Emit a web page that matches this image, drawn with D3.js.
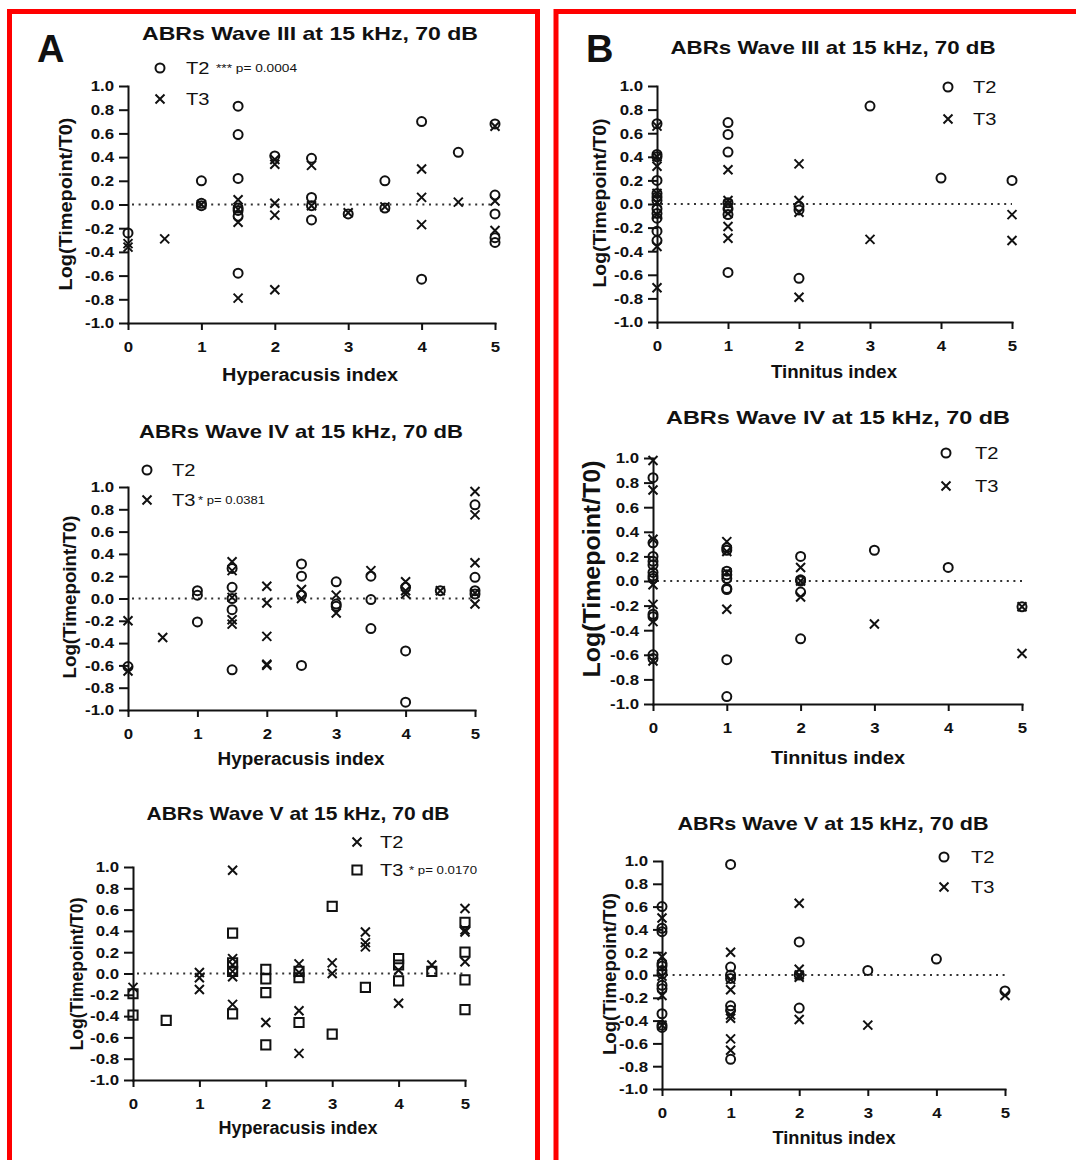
<!DOCTYPE html>
<html><head><meta charset="utf-8">
<script src="https://cdn.jsdelivr.net/npm/d3@7"></script>
<style>
body{margin:0;background:#fff}
svg{display:block}
text{font-family:"Liberation Sans",Arial,sans-serif;fill:#111}
</style>
</head><body>
<svg id="c" width="1076" height="1160"></svg>
<script>
// ---------- data ----------
const yTicks = [-1.0,-0.8,-0.6,-0.4,-0.2,0.0,0.2,0.4,0.6,0.8,1.0];
const xTicks = [0,1,2,3,4,5];
const seriesNames = ["T2","T3"];
const titles = ["ABRs Wave III at 15 kHz, 70 dB","ABRs Wave IV at 15 kHz, 70 dB","ABRs Wave V at 15 kHz, 70 dB"];
const xLabels = ["Hyperacusis index","Tinnitus index"];
const yLabel = "Log(Timepoint/T0)";
const pValues = ["*** p= 0.0004","* p= 0.0381","* p= 0.0170"];

// A: Hyperacusis index
const a3T2 = [[0,-0.24],[1,0.20],[1,0.01],[1,-0.01],[1.5,0.83],[1.5,0.59],[1.5,0.22],[1.5,-0.03],[1.5,-0.05],[1.5,-0.10],[1.5,-0.58],
  [2,0.41],[2.5,0.39],[2.5,0.06],[2.5,-0.01],[2.5,-0.13],[3,-0.08],[3.5,0.20],[3.5,-0.03],[4,0.70],[4,-0.63],[4.5,0.44],
  [5,0.68],[5,0.08],[5,-0.08],[5,-0.28],[5,-0.32]];
const a3T3 = [[0,-0.33],[0,-0.36],[0.5,-0.29],[1,0.0],[1.5,0.04],[1.5,-0.04],[1.5,-0.15],[1.5,-0.79],
  [2,0.38],[2,0.34],[2,0.01],[2,-0.09],[2,-0.72],[2.5,0.33],[2.5,-0.01],[3,-0.07],[3.5,-0.02],
  [4,0.30],[4,0.06],[4,-0.17],[4.5,0.02],[5,0.66],[5,0.03],[5,-0.22]];
const a4T2 = [[0,-0.61],[1,0.07],[1,0.03],[1,-0.21],[1.5,0.27],[1.5,0.10],[1.5,0.0],[1.5,-0.10],[1.5,-0.64],
  [2.5,0.31],[2.5,0.20],[2.5,0.03],[2.5,-0.60],[3,0.15],[3,-0.05],[3,-0.07],[3.5,0.20],[3.5,-0.01],[3.5,-0.27],
  [4,0.10],[4,-0.47],[4,-0.93],[4.5,0.07],[5,0.84],[5,0.19],[5,0.07],[5,0.04]];
const a4T3 = [[0,-0.20],[0,-0.65],[0.5,-0.35],[1.5,0.33],[1.5,0.25],[1.5,0.01],[1.5,-0.19],[1.5,-0.23],
  [2,0.11],[2,-0.04],[2,-0.34],[2,-0.59],[2,-0.60],[2.5,0.08],[2.5,0.0],[3,0.03],[3,-0.13],[3.5,0.25],
  [4,0.15],[4,0.07],[4,0.04],[4.5,0.07],[5,0.96],[5,0.75],[5,0.32],[5,0.05],[5,-0.05]];
const a5T2 = [[0,-0.13],[1,0.01],[1,-0.04],[1,-0.15],[1.5,0.97],[1.5,0.14],[1.5,0.08],[1.5,0.02],[1.5,-0.03],[1.5,-0.29],
  [2,-0.46],[2.5,0.09],[2.5,0.01],[2.5,-0.35],[2.5,-0.75],[3,0.10],[3,0.0],[3.5,0.39],[3.5,0.29],[3.5,0.25],
  [4,0.03],[4,-0.28],[4.5,0.08],[5,0.61],[5,0.41],[5,0.39],[5,0.11]];
const a5T3 = [[0,-0.19],[0,-0.39],[0.5,-0.44],[1.5,0.38],[1.5,0.10],[1.5,0.02],[1.5,-0.38],
  [2,0.04],[2,-0.05],[2,-0.18],[2,-0.67],[2.5,0.02],[2.5,-0.04],[2.5,-0.46],[3,0.63],[3,-0.57],[3.5,-0.13],
  [4,0.14],[4,0.08],[4,-0.07],[4.5,0.02],[5,0.48],[5,0.20],[5,-0.06],[5,-0.34]];

// B: Tinnitus index
const b3T2 = [[0,0.68],[0,0.42],[0,0.40],[0,0.20],[0,0.09],[0,0.06],[0,0.03],[0,-0.04],[0,-0.08],[0,-0.12],[0,-0.23],[0,-0.31],
  [1,0.69],[1,0.59],[1,0.44],[1,0.01],[1,-0.04],[1,-0.09],[1,-0.58],[2,-0.02],[2,-0.05],[2,-0.63],[3,0.83],[4,0.22],[5,0.20]];
const b3T3 = [[0,0.66],[0,0.40],[0,0.32],[0,0.09],[0,0.01],[0,-0.09],[0,-0.36],[0,-0.71],
  [1,0.29],[1,0.03],[1,0.0],[1,-0.08],[1,-0.19],[1,-0.29],[2,0.34],[2,0.03],[2,-0.07],[2,-0.79],[3,-0.30],[5,-0.09],[5,-0.31]];
const b4T2 = [[0,0.84],[0,0.31],[0,0.20],[0,0.16],[0,0.13],[0,0.07],[0,0.04],[0,0.02],[0,-0.27],[0,-0.29],[0,-0.60],[0,-0.63],
  [1,0.27],[1,0.25],[1,0.08],[1,0.05],[1,0.02],[1,-0.06],[1,-0.07],[1,-0.64],[1,-0.94],
  [2,0.20],[2,0.01],[2,0.0],[2,-0.09],[2,-0.47],[3,0.25],[4,0.11],[5,-0.21]];
const b4T3 = [[0,0.98],[0,0.74],[0,0.34],[0,-0.03],[0,-0.19],[0,-0.33],[0,-0.65],
  [1,0.32],[1,0.24],[1,0.07],[1,-0.23],[2,0.11],[2,0.0],[2,-0.13],[3,-0.35],[5,-0.21],[5,-0.59]];
const b5T2 = [[0,0.60],[0,0.41],[0,0.38],[0,0.10],[0,0.08],[0,0.04],[0,0.01],[0,-0.09],[0,-0.12],[0,-0.34],[0,-0.44],[0,-0.46],
  [1,0.97],[1,0.07],[1,0.0],[1,-0.03],[1,-0.27],[1,-0.31],[1,-0.74],[2,0.29],[2,0.0],[2,-0.29],[3,0.04],[4,0.14],[5,-0.14]];
const b5T3 = [[0,0.50],[0,0.16],[0,-0.01],[0,-0.18],[0,-0.44],
  [1,0.20],[1,-0.04],[1,-0.13],[1,-0.35],[1,-0.38],[1,-0.56],[1,-0.66],
  [2,0.63],[2,0.05],[2,0.0],[2,-0.02],[2,-0.39],[3,-0.44],[5,-0.18]];

// ---------- layout ----------
const panels = [
 {t:0,xl:0,s2:a3T2,s3:a3T3,m2:"circle",m3:"x",x0:128,x1:495,yT:86,yB:323,tc:[310,33],tw:336,xc:[310,375],xw:176,yc:[65,204],yw:173,yf:19,
  legX:160,legR:[68,99],legT:186,p:{row:0,x:216,w:81}},
 {t:1,xl:0,s2:a4T2,s3:a4T3,m2:"circle",m3:"x",x0:128,x1:475,yT:487,yB:710,tc:[301,431],tw:324,xc:[301,759],xw:167,yc:[69,597],yw:163,yf:18.5,
  legX:147,legR:[470,500],legT:172,p:{row:1,x:198,w:67}},
 {t:2,xl:0,s2:a5T2,s3:a5T3,m2:"x",m3:"square",x0:133,x1:465,yT:867,yB:1080,tc:[298,813],tw:303,xc:[298,1128],xw:159,yc:[77,974],yw:153,yf:18,
  legX:357,legR:[842,870],legT:380,p:{row:1,x:409,w:68}},
 {t:0,xl:1,s2:b3T2,s3:b3T3,m2:"circle",m3:"x",x0:657,x1:1012,yT:86,yB:322,tc:[833,47],tw:325,xc:[834,372],xw:126,yc:[599,203],yw:169,yf:19,
  legX:948,legR:[87,119],legT:973,p:null},
 {t:1,xl:1,s2:b4T2,s3:b4T3,m2:"circle",m3:"x",x0:653,x1:1022,yT:458,yB:704,tc:[838,417],tw:344,xc:[838,758],xw:134,yc:[592,569],yw:217,yf:23,
  legX:946,legR:[453,486],legT:975,p:null},
 {t:2,xl:1,s2:b5T2,s3:b5T3,m2:"circle",m3:"x",x0:662,x1:1005,yT:861,yB:1089,tc:[833,823],tw:311,xc:[834,1138],xw:123,yc:[609,974],yw:162,yf:18.5,
  legX:944,legR:[857,887],legT:971,p:null}
];
const pIdx = [0,1,2];

const INK = "#111";
const svg = d3.select("#c");

// red frames
svg.append("rect").attr("x",9.5).attr("y",11.5).attr("width",528).attr("height",1200)
  .attr("fill","none").attr("stroke","#f00").attr("stroke-width",5);
svg.append("rect").attr("x",556).attr("y",11.5).attr("width",620).attr("height",1200)
  .attr("fill","none").attr("stroke","#f00").attr("stroke-width",5);

svg.append("text").attr("x",37).attr("y",62).attr("font-size",38).attr("font-weight","bold").attr("fill","#000").text("A");
svg.append("text").attr("x",586).attr("y",62).attr("font-size",38).attr("font-weight","bold").attr("fill","#000").text("B");

function stretch(sel,k){
  sel.each(function(){
    const L=this.getComputedTextLength();
    d3.select(this).attr("textLength",L*k).attr("lengthAdjust","spacingAndGlyphs");
  });
}
const markerPath = {
  circle: d3.symbol(d3.symbolCircle, Math.PI*4.5*4.5)(),
  x: "M-4.5,-4.5L4.5,4.5M-4.5,4.5L4.5,-4.5",
  square: "M-4.6,-4.6H4.6V4.6H-4.6Z"
};
function markers(g, data, type, x, y){
  g.selectAll(null).data(data).join("path")
    .attr("d", markerPath[type])
    .attr("transform", d=>`translate(${x(d[0])},${y(d[1])})`)
    .attr("fill","none").attr("stroke",INK)
    .attr("stroke-width", 2);
}

panels.forEach((p,i)=>{
  const x = d3.scaleLinear().domain([0,5]).range([p.x0,p.x1]);
  const y = d3.scaleLinear().domain([-1,1]).range([p.yB,p.yT]);
  const g = svg.append("g");

  // zero reference line
  g.append("line").attr("x1",x(0)+4).attr("x2",x(5)).attr("y1",y(0)).attr("y2",y(0))
    .attr("stroke","#333").attr("stroke-width",2).attr("stroke-dasharray","2,4.6");

  const ya = g.append("g").attr("transform",`translate(${p.x0},0)`)
    .call(d3.axisLeft(y).tickValues(yTicks).tickFormat(d=>d.toFixed(1)).tickSize(9).tickPadding(5).tickSizeOuter(0));
  const xa = g.append("g").attr("transform",`translate(0,${p.yB})`)
    .call(d3.axisBottom(x).tickValues(xTicks).tickFormat(d3.format("d")).tickSize(7).tickPadding(11).tickSizeOuter(0));
  [ya,xa].forEach(a=>{
    a.selectAll("path,line").attr("stroke",INK).attr("stroke-width",2);
    a.select(".domain").attr("stroke-linecap","square");
    a.selectAll("text").attr("font-size",15).attr("font-weight","bold")
      .attr("font-family",'"Liberation Sans",Arial,sans-serif').attr("fill",INK);
    stretch(a.selectAll("text"),1.12);
  });

  // points
  markers(g, p.s2, p.m2, x, y);
  markers(g, p.s3, p.m3, x, y);

  // title
  g.append("text").attr("x",p.tc[0]).attr("y",p.tc[1]).attr("text-anchor","middle")
    .attr("dominant-baseline","central").attr("font-size",19).attr("font-weight","bold")
    .attr("textLength",p.tw).attr("lengthAdjust","spacingAndGlyphs").text(titles[p.t]);
  // x label
  g.append("text").attr("x",p.xc[0]).attr("y",p.xc[1]).attr("text-anchor","middle")
    .attr("dominant-baseline","central").attr("font-size",17.5).attr("font-weight","bold")
    .attr("textLength",p.xw).attr("lengthAdjust","spacingAndGlyphs").text(xLabels[p.xl]);
  // y label
  g.append("text").attr("transform",`translate(${p.yc[0]},${p.yc[1]}) rotate(-90)`).attr("text-anchor","middle")
    .attr("dominant-baseline","central").attr("font-size",p.yf).attr("font-weight","bold")
    .attr("textLength",p.yw).attr("lengthAdjust","spacingAndGlyphs").text(yLabel);

  // legend
  const lg = g.append("g");
  [p.m2,p.m3].forEach((m,k)=>{
    lg.append("path").attr("d",markerPath[m]).attr("transform",`translate(${p.legX},${p.legR[k]})`)
      .attr("fill","none").attr("stroke",INK).attr("stroke-width", 2);
    const t = lg.append("text").attr("x",p.legT).attr("y",p.legR[k]).attr("dominant-baseline","central")
      .attr("font-size",16.5).text(seriesNames[k]);
    stretch(t,1.22);
  });
  if(p.p){
    lg.append("text").attr("x",p.p.x).attr("y",p.legR[p.p.row]+0.5).attr("dominant-baseline","central")
      .attr("font-size",10).attr("fill","#222").attr("textLength",p.p.w).attr("lengthAdjust","spacingAndGlyphs")
      .text(pValues[pIdx[p.t]]);
  }
});
</script>
</body></html>
